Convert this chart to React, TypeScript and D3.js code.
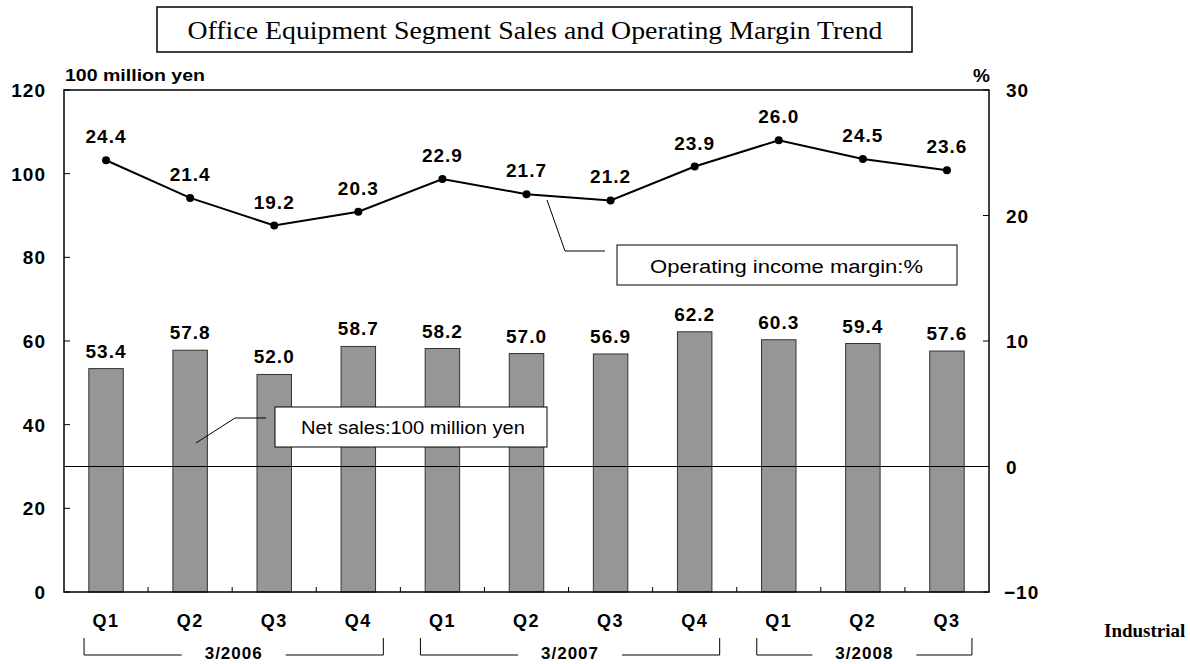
import React from "react";
import * as d3 from "d3";

const categories = ["Q1", "Q2", "Q3", "Q4", "Q1", "Q2", "Q3", "Q4", "Q1", "Q2", "Q3"];
const netSales = [53.4, 57.8, 52.0, 58.7, 58.2, 57.0, 56.9, 62.2, 60.3, 59.4, 57.6];
const opMargin = [24.4, 21.4, 19.2, 20.3, 22.9, 21.7, 21.2, 23.9, 26.0, 24.5, 23.6];
const fiscalYears = ["3/2006", "3/2007", "3/2008"];
const fyStart = [0, 4, 8];
const fyEnd = [3, 7, 10];
const leftTicks = [0, 20, 40, 60, 80, 100, 120];
const rightTicks = [-10, 0, 10, 20, 30];

const W = 1190;
const H = 664;
const L = 64, R = 989, T = 90, B = 592;
const FONT = "'Liberation Sans', Arial, sans-serif";
const SERIF = "'Liberation Serif', 'Times New Roman', serif";

export default function App() {
  const idx = categories.map((_, i) => i);
  const x = d3.scaleBand<number>().domain(idx).range([L, R]).padding(0);
  const yL = d3.scaleLinear().domain([0, 120]).range([B, T]);
  const yR = d3.scaleLinear().domain([-10, 30]).range([B, T]);
  const step = x.step();
  const barW = step * 0.41;
  const cx = (i: number) => (x(i) as number) + step / 2;

  const line = d3
    .line<number>()
    .x((_, i) => cx(i))
    .y((d) => yR(d));

  return (
    <svg
      width={W}
      height={H}
      style={{ position: "absolute", left: 0, top: 0, display: "block", background: "#fff" }}
    >
      {/* title */}
      <rect x={157} y={7} width={755} height={45} fill="#fff" stroke="#000" strokeWidth={1.5} />
      <text
        x={535}
        y={39}
        textAnchor="middle"
        fontFamily={SERIF}
        fontSize={26}
        textLength={695}
        lengthAdjust="spacingAndGlyphs"
      >
        Office Equipment Segment Sales and Operating Margin Trend
      </text>

      {/* axis unit labels */}
      <text x={65} y={81} fontFamily={FONT} fontWeight="bold" fontSize={17} textLength={140} lengthAdjust="spacingAndGlyphs">
        100 million yen
      </text>
      <text x={990} y={82} textAnchor="end" fontFamily={FONT} fontWeight="bold" fontSize={19}>
        %
      </text>

      {/* bars */}
      {netSales.map((v, i) => (
        <rect
          key={"b" + i}
          x={cx(i) - barW / 2}
          y={yL(v)}
          width={barW}
          height={B - yL(v)}
          fill="#969696"
          stroke="#333"
          strokeWidth={1}
        />
      ))}

      {/* zero line of right axis */}
      <line x1={L} x2={R} y1={yR(0)} y2={yR(0)} stroke="#000" strokeWidth={1} />

      {/* plot frame */}
      <rect x={L} y={T} width={R - L} height={B - T} fill="none" stroke="#000" strokeWidth={1.5} />

      {/* left ticks */}
      {leftTicks.map((t) => (
        <g key={"lt" + t}>
          <line x1={L} x2={L + 6} y1={yL(t)} y2={yL(t)} stroke="#000" />
          <text
            x={46}
            y={yL(t) + 7}
            textAnchor="end"
            fontFamily={FONT}
            fontWeight="bold"
            fontSize={19}
            letterSpacing={1}
          >
            {t}
          </text>
        </g>
      ))}

      {/* right ticks */}
      {rightTicks.map((t) => (
        <g key={"rt" + t}>
          <line x1={R - 6} x2={R} y1={yR(t)} y2={yR(t)} stroke="#000" />
          <text
            x={t < 0 ? 1004 : 1006}
            y={yR(t) + 7}
            fontFamily={FONT}
            fontWeight="bold"
            fontSize={19}
            letterSpacing={1}
          >
            {t < 0 ? "\u2212" + Math.abs(t) : t}
          </text>
        </g>
      ))}

      {/* x ticks at band boundaries */}
      {idx.slice(1).map((i) => (
        <line key={"xt" + i} x1={x(i) as number} x2={x(i) as number} y1={B} y2={B - 5} stroke="#000" />
      ))}

      {/* bar labels */}
      {netSales.map((v, i) => (
        <text
          key={"bl" + i}
          x={cx(i)}
          y={yL(v) - 11}
          textAnchor="middle"
          fontFamily={FONT}
          fontWeight="bold"
          fontSize={19}
          letterSpacing={1}
        >
          {v.toFixed(1)}
        </text>
      ))}

      {/* margin line */}
      <path d={line(opMargin) || ""} fill="none" stroke="#000" strokeWidth={2} />
      {opMargin.map((v, i) => (
        <circle key={"c" + i} cx={cx(i)} cy={yR(v)} r={4} fill="#000" />
      ))}
      {opMargin.map((v, i) => (
        <text
          key={"ml" + i}
          x={cx(i)}
          y={yR(v) - 17}
          textAnchor="middle"
          fontFamily={FONT}
          fontWeight="bold"
          fontSize={19}
          letterSpacing={1}
        >
          {v.toFixed(1)}
        </text>
      ))}

      {/* callout: operating margin */}
      <polyline points="547,200 565,251 605,251" fill="none" stroke="#000" strokeWidth={1} />
      <rect x={617} y={245} width={340} height={40} fill="#fff" stroke="#000" strokeWidth={1} />
      <text
        x={650}
        y={273}
        fontFamily={FONT}
        fontSize={18}
        textLength={273}
        lengthAdjust="spacingAndGlyphs"
      >
        Operating income margin:%
      </text>

      {/* callout: net sales */}
      <polyline points="196,443 235,418 266,418" fill="none" stroke="#000" strokeWidth={1} />
      <rect x={275} y={407} width={272} height={40} fill="#fff" stroke="#000" strokeWidth={1} />
      <text
        x={301}
        y={434}
        fontFamily={FONT}
        fontSize={18}
        textLength={224}
        lengthAdjust="spacingAndGlyphs"
      >
        Net sales:100 million yen
      </text>

      {/* category labels */}
      {categories.map((c, i) => (
        <text
          key={"cl" + i}
          x={cx(i)}
          y={627}
          textAnchor="middle"
          fontFamily={FONT}
          fontWeight="bold"
          fontSize={18}
          letterSpacing={1.5}
        >
          {c}
        </text>
      ))}

      {/* fiscal year brackets */}
      {fiscalYears.map((fy, k) => {
        const x0 = cx(fyStart[k]) - 22;
        const x1 = cx(fyEnd[k]) + 25;
        const mid = (x0 + x1) / 2;
        const gap = 52;
        return (
          <g key={"fy" + k}>
            <polyline
              points={`${x0},638 ${x0},655 ${mid - gap},655`}
              fill="none"
              stroke="#000"
              strokeWidth={1}
            />
            <polyline
              points={`${mid + gap},655 ${x1},655 ${x1},638`}
              fill="none"
              stroke="#000"
              strokeWidth={1}
            />
            <text
              x={mid}
              y={659}
              textAnchor="middle"
              fontFamily={FONT}
              fontWeight="bold"
              fontSize={17}
              letterSpacing={1}
            >
              {fy}
            </text>
          </g>
        );
      })}

      {/* side label */}
      <text x={1104} y={637} fontFamily={SERIF} fontWeight="bold" fontSize={19}>
        Industrial
      </text>
    </svg>
  );
}
